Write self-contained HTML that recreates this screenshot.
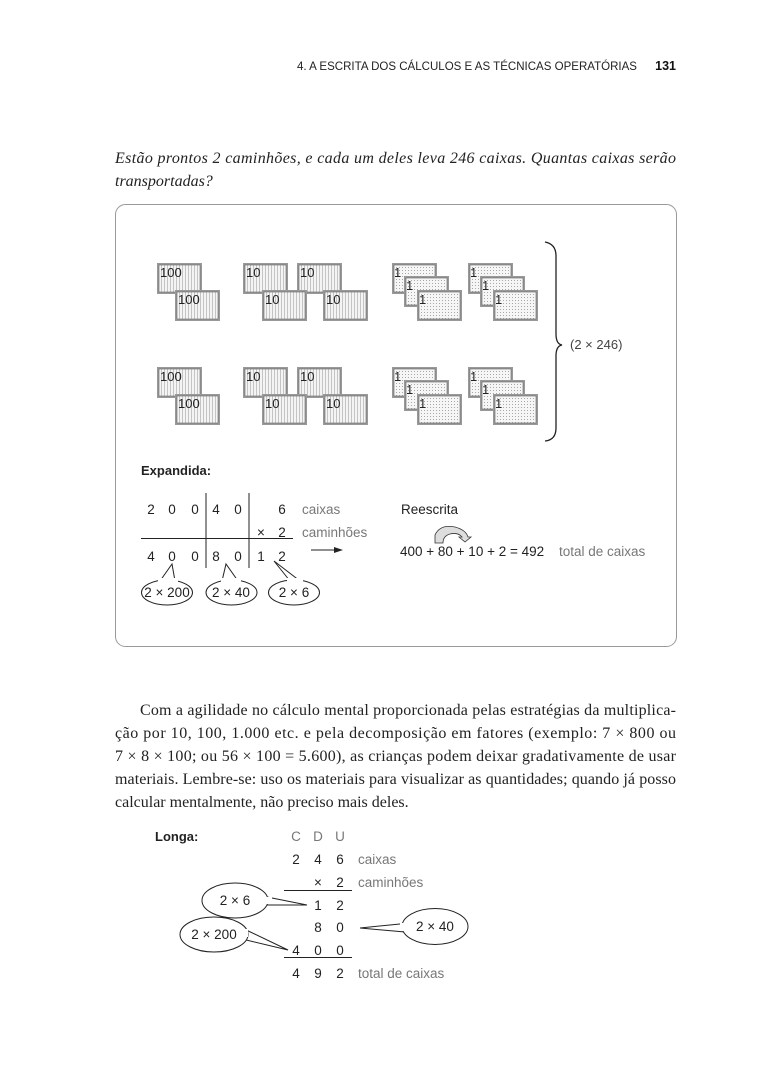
<!DOCTYPE html>
<html><head><meta charset="utf-8"><style>
html,body{margin:0;padding:0;background:#fff}
svg{display:block}
</style></head><body>
<svg width="768" height="1082" viewBox="0 0 768 1082" xmlns="http://www.w3.org/2000/svg" font-family="Liberation Sans, sans-serif">
<defs>
<pattern id="vl" width="3" height="3" patternUnits="userSpaceOnUse"><rect width="3" height="3" fill="#f4f4f4"/><line x1="1.5" y1="0" x2="1.5" y2="3" stroke="#b8b8b8" stroke-width="0.8"/></pattern>
<pattern id="dg" width="3" height="3" patternUnits="userSpaceOnUse"><rect width="3" height="3" fill="#f6f6f6"/><rect x="1" y="1" width="1" height="1" fill="#a8a8a8"/></pattern>
<g id="cv"><rect x="0" y="0" width="45" height="31" fill="#999"/><rect x="2" y="2" width="41" height="27" fill="url(#vl)" stroke="#666" stroke-width="0.6"/></g>
<g id="cd"><rect x="0" y="0" width="45" height="31" fill="#999"/><rect x="2" y="2" width="41" height="27" fill="url(#dg)" stroke="#666" stroke-width="0.6"/></g>
</defs>

<text x="637" y="70" font-size="12" fill="#222" text-anchor="end" textLength="340" lengthAdjust="spacingAndGlyphs">4. A ESCRITA DOS CÁLCULOS E AS TÉCNICAS OPERATÓRIAS</text>
<text x="676" y="70" font-size="12.5" font-weight="bold" fill="#111" text-anchor="end">131</text>

<g font-family="Liberation Serif, serif" font-style="italic" font-size="16" fill="#222">
<text x="115" y="163" textLength="561" lengthAdjust="spacing">Estão prontos 2 caminhões, e cada um deles leva 246 caixas. Quantas caixas serão</text>
<text x="115" y="186">transportadas?</text>
</g>

<rect x="115.5" y="204.5" width="561" height="442" rx="10" fill="none" stroke="#999" stroke-width="1"/>

<g font-size="13" fill="#222">
<g id="row1">
<use href="#cv" x="157" y="263"/><text x="160" y="277">100</text>
<use href="#cv" x="175" y="290"/><text x="178" y="304">100</text>
<use href="#cv" x="243" y="263"/><text x="246" y="277">10</text>
<use href="#cv" x="297" y="263"/><text x="300" y="277">10</text>
<use href="#cv" x="262" y="290"/><text x="265" y="304">10</text>
<use href="#cv" x="323" y="290"/><text x="326" y="304">10</text>
<use href="#cd" x="392" y="263"/><text x="394" y="277">1</text>
<use href="#cd" x="404" y="276"/><text x="406" y="290">1</text>
<use href="#cd" x="417" y="290"/><text x="419" y="304">1</text>
<use href="#cd" x="468" y="263"/><text x="470" y="277">1</text>
<use href="#cd" x="480" y="276"/><text x="482" y="290">1</text>
<use href="#cd" x="493" y="290"/><text x="495" y="304">1</text>
</g>
<use href="#row1" x="0" y="104"/>
</g>

<path d="M545 242 Q556 244 556 256 L556 334 Q556 344 562 345 Q556 346 556 356 L556 428 Q556 440 545 441" fill="none" stroke="#222" stroke-width="1.3"/>
<text x="570" y="349" font-size="13" fill="#444">(2 × 246)</text>

<text x="141" y="475" font-size="13" font-weight="bold" fill="#222">Expandida:</text>
<g font-size="13.5" fill="#222" text-anchor="middle">
<text x="151" y="514">2</text><text x="172" y="514">0</text><text x="195" y="514">0</text>
<text x="216" y="514">4</text><text x="238" y="514">0</text><text x="282" y="514">6</text>
<text x="261" y="537">×</text><text x="282" y="537">2</text>
<text x="151" y="561">4</text><text x="172" y="561">0</text><text x="195" y="561">0</text>
<text x="216" y="561">8</text><text x="238" y="561">0</text><text x="261" y="561">1</text><text x="282" y="561">2</text>
</g>
<g font-size="13.5" fill="#777">
<text x="302" y="514">caixas</text><text x="302" y="537">caminhões</text>
</g>
<g stroke="#222" stroke-width="1">
<line x1="206" y1="493" x2="206" y2="568"/>
<line x1="249" y1="493" x2="249" y2="568"/>
<line x1="141" y1="538.5" x2="293" y2="538.5"/>
<line x1="311" y1="550" x2="336" y2="550"/>
</g>
<path d="M343 550 L334 547 L334 553 Z" fill="#222"/>
<g fill="#fff" stroke="#222" stroke-width="1">
<path d="M160 581 L172 564 L175 581"/>
<ellipse cx="167" cy="592.5" rx="25.5" ry="12.5"/>
<path d="M222 581 L226 564 L238 581"/>
<ellipse cx="231.5" cy="592.5" rx="25.5" ry="12.5"/>
<path d="M290 581 L274 561 L300 581"/>
<ellipse cx="294" cy="592.5" rx="25.5" ry="12.5"/>
</g>
<g fill="#fff"><rect x="158" y="578" width="20" height="6"/><rect x="221" y="578" width="20" height="6"/><rect x="287" y="578" width="16" height="6"/></g>
<g font-size="13.5" fill="#222" text-anchor="middle">
<text x="167" y="597">2 × 200</text><text x="231" y="597">2 × 40</text><text x="294" y="597">2 × 6</text>
</g>

<text x="401" y="514" font-size="13.5" fill="#222">Reescrita</text>
<path d="M435 543 L435 535 Q440 524 455 527 Q466 530 468 537 L471 537 L465 542 L459 537 L462 537 Q458 532 450 534 Q443 536 443 543 Z" fill="#ddd" stroke="#333" stroke-width="0.8"/>
<text x="400" y="556" font-size="13.5" fill="#222">400 + 80 + 10 + 2 = 492</text>
<text x="559" y="556" font-size="13.5" fill="#777">total de caixas</text>

<g font-family="Liberation Serif, serif" font-size="16" fill="#222">
<text x="140" y="715" textLength="536" lengthAdjust="spacing">Com a agilidade no cálculo mental proporcionada pelas estratégias da multiplica-</text>
<text x="115" y="738" textLength="561" lengthAdjust="spacing">ção por 10, 100, 1.000 etc. e pela decomposição em fatores (exemplo: 7 × 800 ou</text>
<text x="115" y="761" textLength="561" lengthAdjust="spacing">7 × 8 × 100; ou 56 × 100 = 5.600), as crianças podem deixar gradativamente de usar</text>
<text x="115" y="784" textLength="561" lengthAdjust="spacing">materiais. Lembre-se: uso os materiais para visualizar as quantidades; quando já posso</text>
<text x="115" y="807">calcular mentalmente, não preciso mais deles.</text>
</g>

<text x="155" y="841" font-size="13" font-weight="bold" fill="#222">Longa:</text>
<g font-size="13.5" text-anchor="middle">
<g fill="#777"><text x="296" y="841">C</text><text x="318" y="841">D</text><text x="340" y="841">U</text></g>
<g fill="#222">
<text x="296" y="864">2</text><text x="318" y="864">4</text><text x="340" y="864">6</text>
<text x="318" y="887">×</text><text x="340" y="887">2</text>
<text x="318" y="910">1</text><text x="340" y="910">2</text>
<text x="318" y="932">8</text><text x="340" y="932">0</text>
<text x="296" y="955">4</text><text x="318" y="955">0</text><text x="340" y="955">0</text>
<text x="296" y="978">4</text><text x="318" y="978">9</text><text x="340" y="978">2</text>
</g>
</g>
<g font-size="13.5" fill="#777">
<text x="358" y="864">caixas</text><text x="358" y="887">caminhões</text><text x="358" y="978">total de caixas</text>
</g>
<g stroke="#222" stroke-width="1">
<line x1="284" y1="890.5" x2="352" y2="890.5"/>
<line x1="284" y1="957.5" x2="352" y2="957.5"/>
</g>
<g fill="#fff" stroke="#222" stroke-width="1">
<path d="M262 896 L307 905 L265 905"/>
<ellipse cx="235" cy="900.5" rx="33" ry="17.5"/>
<path d="M242 928 L288 950 L238 938"/>
<ellipse cx="214" cy="934.5" rx="34" ry="17.5"/>
<path d="M410 923 L360 928 L405 932"/>
<ellipse cx="435" cy="926.5" rx="33" ry="18"/>
</g>
<g fill="#fff"><rect x="262" y="897" width="10" height="7"/><rect x="240" y="929" width="8" height="8"/><rect x="400" y="923" width="9" height="8"/></g>
<g font-size="13.5" fill="#222" text-anchor="middle">
<text x="235" y="905">2 × 6</text><text x="214" y="939">2 × 200</text><text x="435" y="931">2 × 40</text>
</g>
</svg>
</body></html>
